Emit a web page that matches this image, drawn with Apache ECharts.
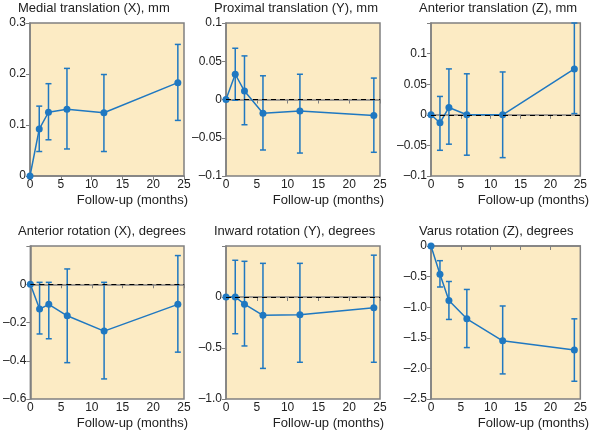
<!DOCTYPE html>
<html>
<head>
<meta charset="utf-8">
<script src="https://cdn.jsdelivr.net/npm/echarts@6/dist/echarts.min.js"></script>
<style>html,body{margin:0;padding:0;background:#fff}#c{width:590px;height:434px}</style>
</head>
<body>
<div id="c"></div>
<script>
// follow-up times (months)
const months = [0, 1.5, 3, 6, 12, 24];

const titles = [
  "Medial translation (X), mm", "Proximal translation (Y), mm", "Anterior translation (Z), mm",
  "Anterior rotation (X), degrees", "Inward rotation (Y), degrees", "Varus rotation (Z), degrees"
];

// mean values per panel
const means = [
  [0, 0.092, 0.125, 0.131, 0.124, 0.183],
  [0, 0.033, 0.011, -0.018, -0.015, -0.021],
  [0, -0.013, 0.012, 0, 0, 0.075],
  [0, -0.13, -0.105, -0.165, -0.245, -0.105],
  [0, 0, -0.07, -0.18, -0.175, -0.105],
  [0, -0.46, -0.89, -1.19, -1.55, -1.7]
];
// error bar upper ends
const upper = [
  [0, 0.137, 0.181, 0.211, 0.199, 0.258],
  [0, 0.067, 0.057, 0.031, 0.033, 0.028],
  [0, 0.03, 0.075, 0.067, 0.07, 0.15],
  [0, 0.01, 0.01, 0.08, 0.01, 0.15],
  [0, 0.36, 0.35, 0.33, 0.33, 0.41],
  [0, -0.24, -0.58, -0.71, -0.98, -1.19]
];
// error bar lower ends
const lower = [
  [0, 0.048, 0.071, 0.053, 0.048, 0.109],
  [0, -0.001, -0.033, -0.066, -0.07, -0.069],
  [0, -0.058, -0.048, -0.066, -0.07, 0.002],
  [0, -0.26, -0.285, -0.41, -0.495, -0.355],
  [0, -0.36, -0.48, -0.7, -0.64, -0.64],
  [0, -0.67, -1.2, -1.66, -2.09, -2.21]
];

// y axis ranges: [min, max, interval, fixed decimals (0 = trim)]
const yRanges = [
  [0, 0.3, 0.1, 1], [-0.1, 0.1, 0.05, 0], [-0.1, 0.15, 0.05, 0],
  [-0.6, 0.2, 0.2, 1], [-1, 0.5, 0.5, 1], [-2.5, 0, 0.5, 1]
];
const hideTop = [false, false, true, true, true, false];
const dashedZero = [false, true, true, true, true, false];

const colLeft = [30, 226, 431];
const rowTop = [23, 246];
const W = 154, H = 153;
const blue = "#1f78c1";
const font = "Liberation Sans, Arial, sans-serif";

const chart = echarts.init(document.getElementById("c"));
const grid = [], xAxis = [], yAxis = [], series = [], graphic = [];

titles.forEach((t, i) => {
  const left = colLeft[i % 3], top = rowTop[Math.floor(i / 3)];
  const [mn, mx, iv, dec] = yRanges[i];
  grid.push({ left, top, width: W, height: H, show: true, backgroundColor: "#fcebc4", borderColor: "#808080", borderWidth: 1.5 });
  xAxis.push({
    gridIndex: i, type: "value", min: 0, max: 25, interval: 5,
    axisLine: { lineStyle: { color: "#808080", width: 1.5 } },
    axisTick: { lineStyle: { color: "#808080" }, length: 4 },
    axisLabel: { color: "#222", fontSize: 12, fontFamily: font, margin: 3 },
    splitLine: { show: false }
  });
  yAxis.push({
    gridIndex: i, type: "value", min: mn, max: mx, interval: iv,
    axisLine: { show: true, onZero: false, lineStyle: { color: "#808080", width: 1.5 } },
    axisTick: { show: true, lineStyle: { color: "#808080" }, length: 4 },
    axisLabel: {
      color: "#222", fontSize: 12, fontFamily: font, margin: 4,
      formatter: v => {
        if (hideTop[i] && v > mx - 1e-9) return "";
        if (Math.abs(v) < 1e-9) return "0";
        const s = dec ? Math.abs(v).toFixed(dec) : String(parseFloat(Math.abs(v).toFixed(2)));
        return (v < 0 ? "\u2013" : "") + s;
      }
    },
    splitLine: { show: false }
  });
  graphic.push({ type: "text", left: left - 12, top: top - 21,
    style: { text: t, font: "13px " + font, fill: "#222" } });
  graphic.push({ type: "text", right: 590 - left - W - 4, top: top + H + 18,
    style: { text: "Follow-up (months)", font: "13px " + font, fill: "#222" } });

  const errData = months.map((m, k) => [m, lower[i][k], upper[i][k]]);
  series.push({
    type: "custom", xAxisIndex: i, yAxisIndex: i, data: errData, z: 3,
    renderItem: (params, api) => {
      const p1 = api.coord([api.value(0), api.value(1)]);
      const p2 = api.coord([api.value(0), api.value(2)]);
      const st = { stroke: blue, lineWidth: 1.5 };
      return { type: "group", children: [
        { type: "line", shape: { x1: p1[0], y1: p1[1], x2: p2[0], y2: p2[1] }, style: st },
        { type: "line", shape: { x1: p1[0] - 3, y1: p1[1], x2: p1[0] + 3, y2: p1[1] }, style: st },
        { type: "line", shape: { x1: p2[0] - 3, y1: p2[1], x2: p2[0] + 3, y2: p2[1] }, style: st }
      ] };
    }
  });
  const line = {
    type: "line", xAxisIndex: i, yAxisIndex: i, z: 4,
    data: months.map((m, k) => [m, means[i][k]]),
    symbol: "circle", symbolSize: 7, itemStyle: { color: blue },
    lineStyle: { color: blue, width: 1.5 }, animation: false
  };
  if (dashedZero[i]) {
    line.markLine = { silent: true, symbol: "none", label: { show: false },
      lineStyle: { color: "#000", type: [5, 4], width: 1 }, data: [{ yAxis: 0 }] };
  }
  series.push(line);
});

chart.setOption({ animation: false, grid, xAxis, yAxis, series, graphic });
</script>
</body>
</html>
